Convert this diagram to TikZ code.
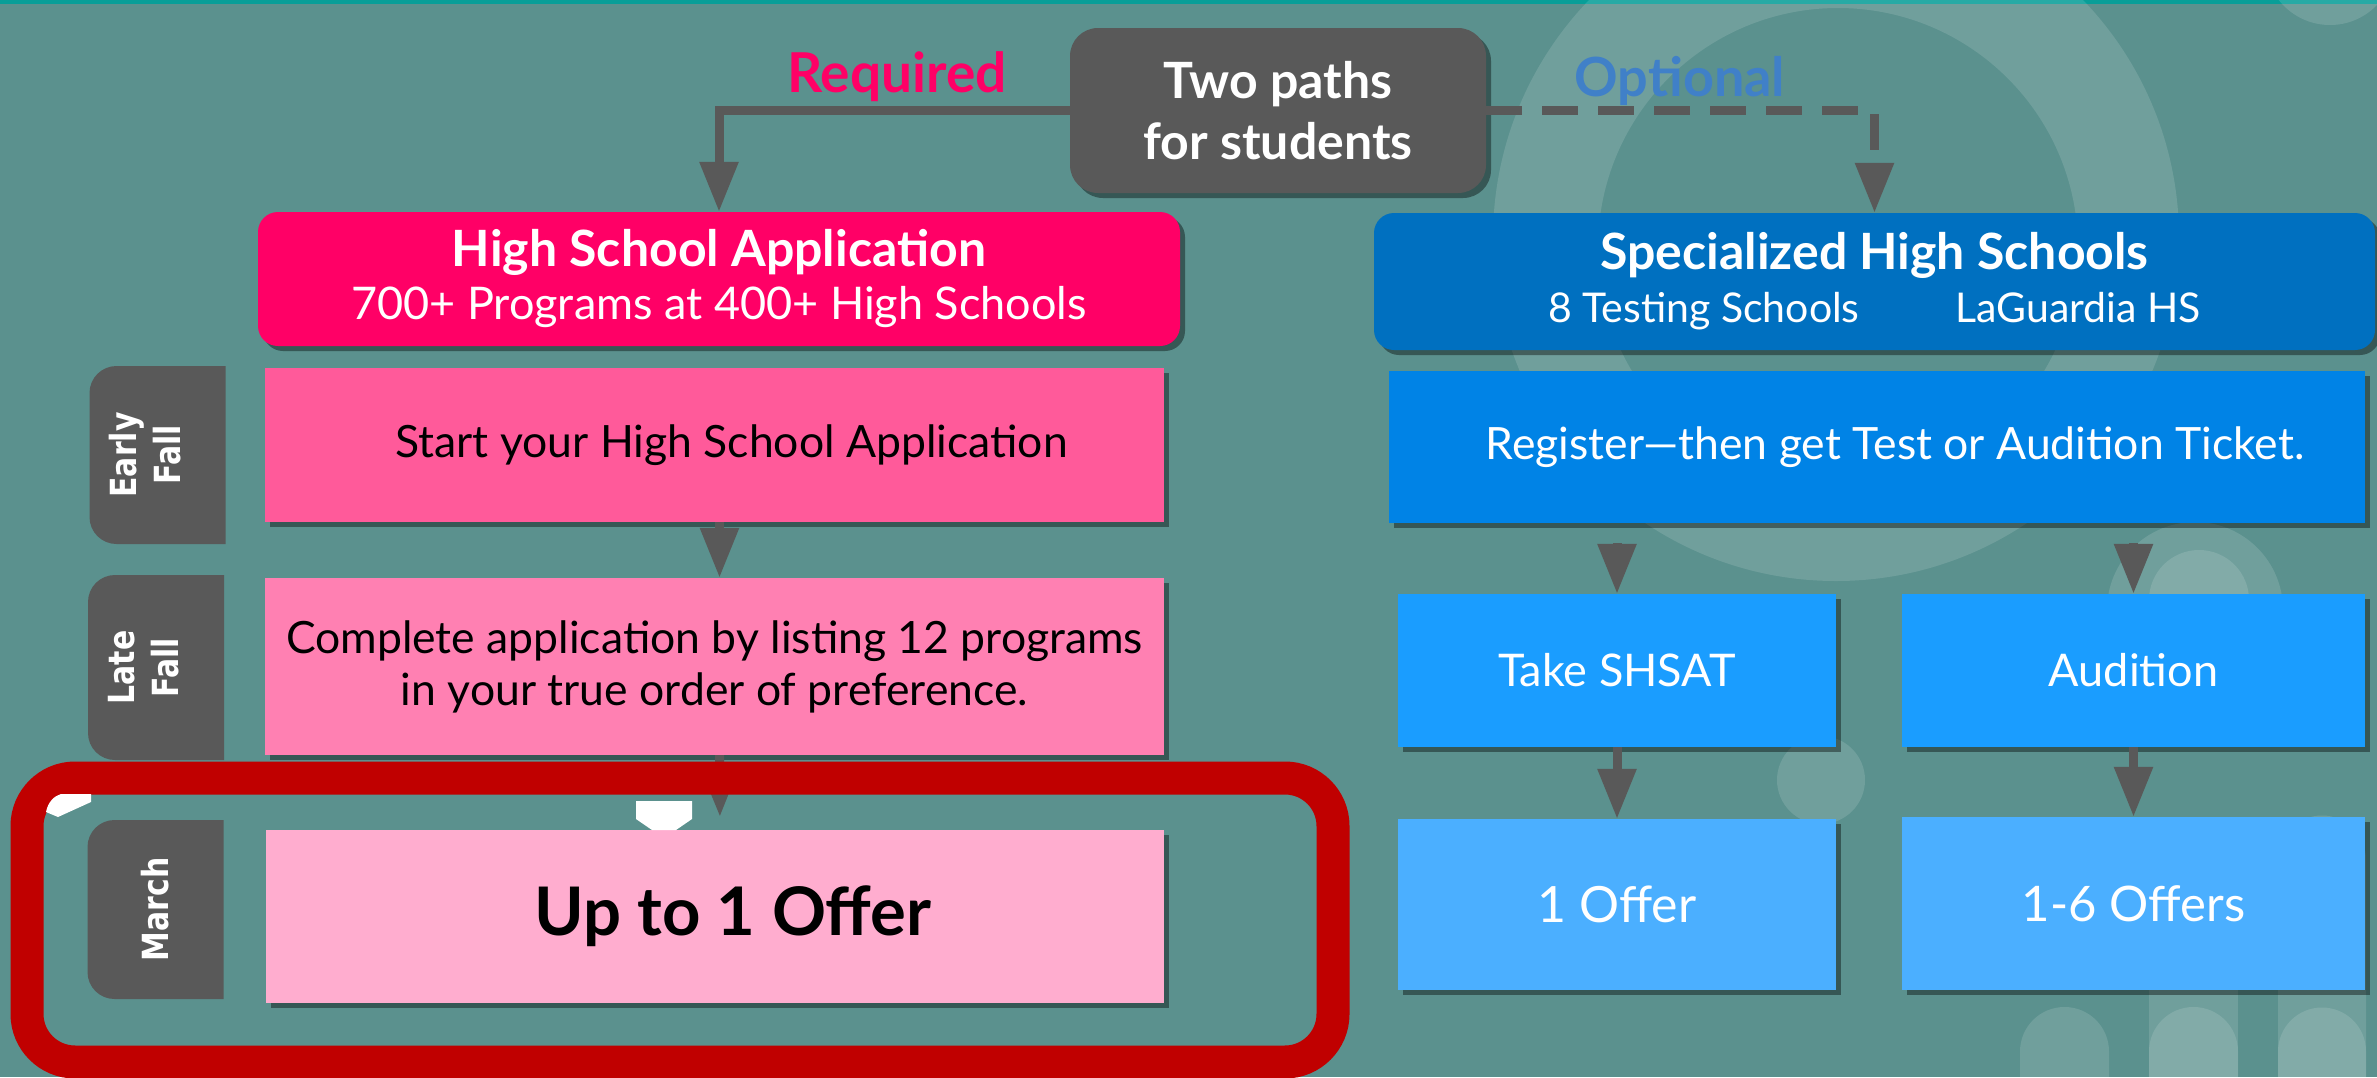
\documentclass[tikz,border=0pt]{standalone}
\usepackage{fontspec}
\setmainfont{Lato}
\newfontfamily\tabfont{DejaVu Sans}[FakeStretch=0.83]
\usepackage{graphicx}
\usetikzlibrary{arrows.meta,shadows}
\definecolor{bg}{HTML}{5B918E}
\definecolor{topline}{HTML}{089E98}
\definecolor{dgray}{HTML}{595959}
\definecolor{req}{HTML}{FF0066}
\definecolor{opt}{HTML}{4080C8}
\definecolor{pinkA}{HTML}{FF0066}
\definecolor{pinkB}{HTML}{FF5A9A}
\definecolor{pinkC}{HTML}{FF80B2}
\definecolor{pinkD}{HTML}{FFADCF}
\definecolor{blueA}{HTML}{0070C0}
\definecolor{blueB}{HTML}{0083E6}
\definecolor{blueC}{HTML}{1A9DFF}
\definecolor{blueD}{HTML}{4BAFFF}
\definecolor{hiframe}{HTML}{C00000}
\newcommand\fsz[2]{\fontsize{#1}{#2}\selectfont}
\begin{document}
\begin{tikzpicture}[x=1pt,y=-1pt,
  shad/.style={drop shadow={shadow xshift=5pt,shadow yshift=-5pt,opacity=.4,fill=black}},
  box/.style={shad, inner sep=0pt, align=center, text=white},
  arr/.style={draw=dgray, line width=9pt, -{Triangle[width=37pt,length=50pt]}},
  tab/.style={minimum width=136pt, inner sep=0pt, text=white, font=\tabfont\bfseries\fsz{36}{44},
     path picture={\fill[dgray, rounded corners=27pt] (path picture bounding box.south west) rectangle ([xshift=60pt]path picture bounding box.north east);}},
  deco/.style={fill=white, fill opacity=.13},
]
\useasboundingbox (0,0) rectangle (2377,1077);
\fill[bg] (0,0) rectangle (2377,1077);
\fill[topline] (0,0) rectangle (2377,4);
% background decorations
\fill[deco, even odd rule] (1836,238) circle[radius=343] (1838,248) circle[radius=240];
\fill[deco] (2330,-40) circle[radius=65];
\fill[deco] (1821,780) circle[radius=44];
\fill[deco] (2195,610) circle[radius=88];
\fill[deco] (2199,600) circle[radius=50];
\fill[deco] (2149,940) rectangle (2238,1077);
\fill[deco] (2278,1077) -- (2278,859.5) arc[start angle=180,end angle=0,radius=44pt] -- (2366,1077) -- cycle;
\fill[deco] (2020,1077) -- (2020,1051.5) arc[start angle=180,end angle=0,radius=44.5pt] -- (2109,1077) -- cycle;
\fill[deco] (2149,1077) -- (2149,1051.5) arc[start angle=180,end angle=0,radius=44.5pt] -- (2238,1077) -- cycle;
\fill[deco] (2278,1077) -- (2278,1051.5) arc[start angle=180,end angle=0,radius=44pt] -- (2366,1077) -- cycle;

% top
\node[box, fill=dgray, rounded corners=28pt, minimum width=416pt, minimum height=165pt, font=\bfseries\fsz{50}{61}] (paths) at (1278,110.5) {Two paths\\for students};
\node[anchor=base, text=req, font=\bfseries\fsz{55}{60}] (reqlbl) at (897,92) {Required};
\node[anchor=base, text=opt, font=\bfseries\fsz{54}{60}] (optlbl) at (1680,96) {Optional};

% headers
\node[box, fill=pinkA, rounded corners=20pt, minimum width=922pt, minimum height=134pt, font=\fsz{45}{53}] (hsapp) at (719,279) {\textbf{\fsz{50}{53}High School Application}\\700+ Programs at 400+ High Schools};
\node[box, fill=blueA, rounded corners=20pt, minimum width=1001pt, minimum height=137pt, font=\fsz{41}{53}] (shs) at (1874.5,281.5) {\textbf{\fsz{50}{53}Specialized High Schools}\\8 Testing Schools\hspace{96pt}LaGuardia HS};

% side tabs
\node[tab, minimum height=178pt] (early) at (157.5,455) {\hspace*{-16pt}\rotatebox{90}{\begin{tabular}{@{}c@{}}Early\\Fall\end{tabular}}};
\node[tab, minimum height=185pt] (late) at (156,667.5) {\hspace*{-16pt}\rotatebox{90}{\begin{tabular}{@{}c@{}}Late\\Fall\end{tabular}}};
\node[tab, minimum height=179pt] (march) at (155.5,909.5) {\rotatebox{90}{March}};

% left column
\node[box, fill=pinkB, text=black, minimum width=899pt, minimum height=154pt, font=\fsz{44.5}{52}] (start) at (714.5,445) {\hspace*{34pt}Start your High School Application};
\node[box, fill=pinkC, text=black, minimum width=899pt, minimum height=177pt, font=\fsz{44.5}{52}] (complete) at (714.5,666.5) {Complete application by listing 12 programs\\in your true order of preference.};
\node[box, fill=pinkD, text=black, minimum width=898pt, minimum height=173pt, font=\bfseries\fsz{67}{70}] (upto) at (715,916.5) {\hspace*{36pt}Up to 1 Offer};

% right column
\node[box, fill=blueB, minimum width=976pt, minimum height=152pt, font=\fsz{44.5}{52}] (register) at (1877,447) {\hspace*{36pt}Register---then get Test or Audition Ticket.};
\node[box, fill=blueC, minimum width=438pt, minimum height=153pt, font=\fsz{45}{52}] (shsat) at (1617,670.5) {Take SHSAT};
\node[box, fill=blueC, minimum width=463pt, minimum height=153pt, font=\fsz{45}{52}] (audition) at (2133.5,670.5) {Audition};
\node[box, fill=blueD, minimum width=438pt, minimum height=171pt, font=\fsz{50}{56}] (offer1) at (1617,904.5) {1 Offer};
\node[box, fill=blueD, minimum width=463pt, minimum height=173pt, font=\fsz{49}{56}] (offers16) at (2133.5,903.5) {1-6 Offers};

% connectors
\draw[arr] (paths.west) -| (hsapp.north);
\draw[arr, dash pattern=on 36pt off 20pt] (paths.east) -| (shs.north);
\draw[arr] ([xshift=5pt]start.south) -- ([xshift=5pt]complete.north);
\draw[arr, shorten >=13pt] ([xshift=5pt]complete.south) -- ([xshift=5pt]upto.north);
\draw[arr, shorten <=20pt] (register.south -| shsat.north) -- (shsat.north);
\draw[arr, shorten <=20pt] (register.south -| audition.north) -- (audition.north);
\draw[arr] (shsat.south) -- (offer1.north);
\draw[arr] (audition.south) -- (offers16.north);

% highlight frame
\node[draw=hiframe, line width=33pt, rounded corners=48pt, minimum width=1306pt, minimum height=284pt, inner sep=0pt] (hilite) at (680,920) {};
\fill[white] (636,801) -- (692,801) -- (692,819) -- (676,830) -- (652,830) -- (636,819) -- cycle;
\fill[white] (46,812) .. controls (48,802) and (54,796) .. (61,794) -- (91,794) -- (91,802) -- (58,817) -- cycle;
\end{tikzpicture}
\end{document}
